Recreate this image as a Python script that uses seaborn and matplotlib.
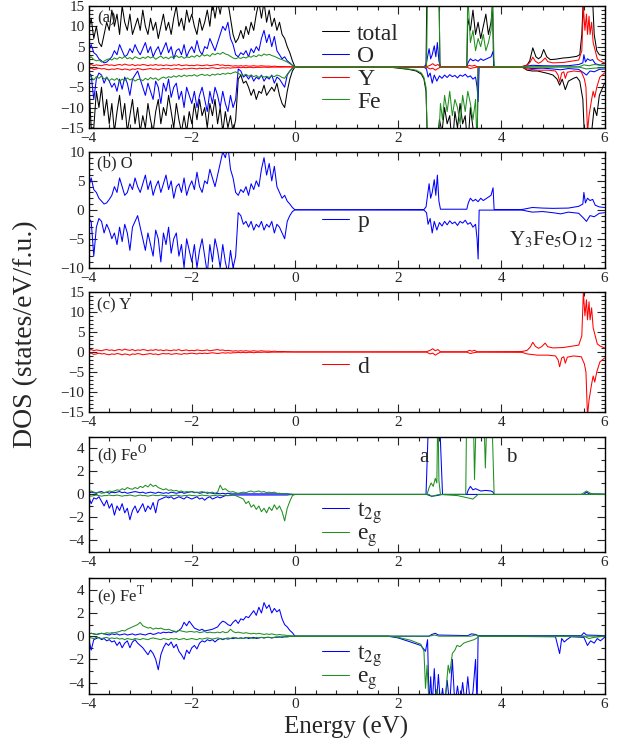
import numpy as np
import matplotlib
matplotlib.use("Agg")
import matplotlib.pyplot as plt
import seaborn as sns
from matplotlib.ticker import MultipleLocator


# valence band grid: -4.00 ... 0.00 eV, step 0.05 (81 points)
E_VB = np.linspace(-4.0, 0.0, 81)

# ---------------- panel (a): total / O / Y / Fe ----------------
tot_up_vb = [9, 12, 7, 10, 6, 5, 8, 11, 9, 14,
             10, 13, 8, 15, 11, 9, 13, 8, 10, 12,
             9, 14, 10, 8, 12, 9, 11, 7, 10, 13,
             9, 11, 8, 12, 15, 10, 12, 9, 14, 11,
             13, 10, 8, 12, 9, 11, 14, 10, 16, 12,
             16, 13, 17, 15, 16, 12, 8, 6, 7, 9,
             7, 10, 8, 11, 9, 13, 16, 12, 16, 11,
             14, 10, 12, 9, 11, 8, 7, 5, 3.5, 1.5,
             0]
tot_dn_vb = [-3, -15, -15, -6, -10, -5, -12, -8, -14, -9,
             -16, -11, -7, -13, -9, -16, -12, -8, -14, -10,
             -16, -12, -15, -9, -13, -16, -11, -8, -14, -10,
             -12, -7, -11, -15, -9, -13, -16, -12, -16, -11,
             -14, -9, -13, -8, -12, -10, -15, -9, -12, -8,
             -14, -10, -16, -11, -15, -12, -16, -13, -3, -2,
             -4, -3.5, -5, -7, -5.5, -8, -6, -6.5, -4.5, -7,
             -6, -5, -6, -4, -7, -9, -10, -6, -3, -1,
             0]
tot_up_cb_e = [0.0, 2.54, 2.56, 2.6, 2.65, 2.7, 2.75, 2.79, 2.81,
               3.33, 3.35, 3.4, 3.45, 3.5, 3.55, 3.6, 3.65, 3.7, 3.75, 3.8, 3.83, 3.85,
               4.4, 4.5, 4.55, 4.61, 4.67, 4.72, 4.77, 4.82, 4.88, 4.95,
               5.05, 5.2, 5.3, 5.4, 5.46, 5.52, 5.56, 5.6, 5.65, 5.7,
               5.75, 5.8, 5.85, 5.9, 6.0]
tot_up_cb = [0, 0, 22, 20, 22, 20, 22, 20, 0,
             0, 12, 9, 14, 8, 11, 7, 10, 13, 8, 11, 15, 0,
             0, 0.5, 1.5, 4.7, 2.5, 2.0, 2.5, 4.3, 2.5, 1.8,
             1.9, 2.2, 2.3, 2.5, 2.6, 3, 8, 20, 22, 20,
             22, 8, 4, 3, 2.8]
tot_dn_cb_e = [0.0, 1.8, 2.0, 2.2, 2.35, 2.45, 2.5, 2.54, 2.57, 2.6,
               2.65, 2.7, 2.75, 2.8, 2.85, 2.9, 2.95, 3.0, 3.05, 3.1,
               3.15, 3.2, 3.25, 3.3, 3.35, 3.4, 3.45, 3.5, 3.53, 3.55,
               4.4, 4.5, 4.6, 4.7, 4.8, 4.9, 5.0, 5.08, 5.13, 5.18,
               5.24, 5.3, 5.4, 5.46, 5.52, 5.58, 5.62, 5.7, 5.75, 5.8,
               5.85, 5.9, 6.0]
tot_dn_cb = [0, 0, -0.3, -0.6, -1.0, -1.8, -3.0, -6, -20, -20,
             -18, -20, -20, -13, -16, -10, -14, -12, -20, -11,
             -15, -9, -14, -12, -20, -10, -15, -20, -20, 0,
             0, -0.8, -1.0, -1.0, -1.3, -1.6, -2.0, -3.0, -4.5, -3.0,
             -5.6, -3.5, -2.8, -2.5, -3.5, -8, -20, -20, -16, -10,
             -12, -7, -4]

# O (p) - same in panels (a) and (b)
o_up_vb = [4, 5.5, 3.5, 3, 2, 1.5, 1, 1.2, 1.8, 2.5,
           4, 3, 5.5, 4, 2.5, 3, 4.5, 3.5, 5.5, 4,
           3, 4.5, 6, 3.5, 5, 2.5, 4, 5, 3, 4.5,
           6, 3.5, 5, 2, 4, 4.5, 3, 5.5, 2.5, 4,
           5, 3.5, 6.5, 4, 3, 5, 4.5, 7, 5.5, 4,
           6, 8, 10, 9, 11, 7, 5.5, 3, 2.5, 3.5,
           3, 4, 2.5, 4.5, 3.5, 5, 4, 7, 9, 6,
           8, 5, 7.5, 4, 3, 2, 2.5, 1.5, 1, 0.4,
           0]
o_dn_vb = [-1.5, -2, -8, -3, -1.5, -2, -4, -2.5, -3.5, -5,
           -4, -6, -3, -5.5, -2.5, -4, -7, -3, -2, -1,
           -3, -5, -7, -4, -6, -8, -3.5, -5, -9, -4,
           -6, -3, -7.5, -5, -4, -8, -6, -10, -5, -7,
           -9, -6, -10, -7, -5, -8, -11, -6, -9, -5,
           -7, -10, -6, -9, -11, -7, -10, -8, -0.5, -1,
           -2.5, -2, -3, -2, -3.5, -2.5, -3, -2, -3.5, -2.5,
           -3, -2, -4, -2.5, -3, -4, -5, -2, -1, -0.3,
           0]
o_up_cb_e = [0.0, 2.5, 2.54, 2.57, 2.6, 2.63, 2.66, 2.7, 2.73, 2.76,
             2.79, 2.82, 3.33, 3.36, 3.4, 3.45, 3.5, 3.55, 3.6, 3.65,
             3.7, 3.75, 3.8, 3.84, 3.86, 4.4, 4.6, 4.8, 5.0, 5.3,
             5.5, 5.58, 5.6, 5.63, 5.67, 5.72, 5.77, 5.82, 5.9, 6.0]
o_up_cb = [0, 0.05, 0.5, 2.5, 4.5, 2.0, 3.0, 5.2, 2.5, 6.0,
           1.5, 0.1, 0.1, 1.2, 2.0, 1.5, 1.8, 1.4, 2.0, 1.6,
           1.9, 2.2, 2.5, 3.8, 0.05, 0.05, 0.4, 0.3, 0.25, 0.3,
           0.6, 1.0, 3.0, 1.2, 2.0, 1.6, 1.8, 0.8, 0.5, 0.4]
o_dn_cb_e = [0.0, 2.5, 2.55, 2.58, 2.62, 2.66, 2.7, 2.75, 2.8, 2.85,
             2.9, 2.95, 3.0, 3.05, 3.1, 3.15, 3.2, 3.25, 3.3, 3.35,
             3.4, 3.45, 3.5, 3.53, 3.55, 3.57, 4.4, 4.6, 4.8, 5.0,
             5.15, 5.3, 5.5, 5.6, 5.65, 5.72, 5.8, 5.9, 6.0]
o_dn_cb = [0, -0.05, -0.5, -2.5, -1.5, -4.0, -2.0, -3.5, -2.2, -2.8,
           -2.0, -2.6, -1.9, -2.4, -2.1, -2.7, -2.0, -2.3, -1.8, -2.5,
           -2.2, -3.0, -2.5, -5.0, -8.5, -0.05, -0.05, -0.4, -0.3, -0.5,
           -0.7, -0.4, -0.6, -1.5, -2.0, -1.0, -1.2, -0.6, -0.5]

# Y (d) - same in panels (a) and (c)
y_up_vb = [0.4, 0.6, 0.3, 0.5, 0.4, 0.3, 0.5, 0.6, 0.4, 0.5,
           0.3, 0.5, 0.6, 0.4, 0.7, 0.5, 0.4, 0.6, 0.3, 0.5,
           0.4, 0.6, 0.5, 0.3, 0.5, 0.4, 0.6, 0.4, 0.5, 0.3,
           0.5, 0.4, 0.3, 0.5, 0.4, 0.6, 0.3, 0.4, 0.5, 0.3,
           0.4, 0.3, 0.5, 0.4, 0.3, 0.4, 0.5, 0.3, 0.4, 0.5,
           0.6, 0.4, 0.5, 0.3, 0.4, 0.3, 0.2, 0.3, 0.2, 0.3,
           0.2, 0.3, 0.2, 0.2, 0.3, 0.2, 0.2, 0.3, 0.2, 0.2,
           0.2, 0.1, 0.2, 0.1, 0.1, 0.1, 0.1, 0.05, 0.05, 0.02,
           0]
y_dn_vb = [-0.4, -0.3, -0.6, -0.5, -0.3, -0.5, -0.4, -0.6, -0.7, -0.5,
           -0.6, -0.4, -0.5, -0.7, -0.5, -0.6, -0.8, -0.5, -0.6, -0.4,
           -0.5, -0.7, -0.6, -0.5, -0.4, -0.6, -0.5, -0.7, -0.5, -0.4,
           -0.5, -0.4, -0.6, -0.5, -0.4, -0.5, -0.6, -0.4, -0.5, -0.4,
           -0.3, -0.4, -0.5, -0.3, -0.4, -0.3, -0.4, -0.3, -0.2, -0.3,
           -0.4, -0.3, -0.2, -0.3, -0.2, -0.3, -0.2, -0.2, -0.1, -0.2,
           -0.1, -0.2, -0.1, -0.1, -0.2, -0.1, -0.1, -0.1, -0.05, -0.1,
           -0.1, -0.05, -0.05, -0.05, -0.05, -0.05, -0.02, -0.02, -0.02, -0.01,
           0]
y_up_cb_e = [0.0, 2.55, 2.62, 2.67, 2.72, 2.77, 2.82, 3.33, 3.38, 3.43,
             3.48, 3.53, 4.4, 4.5, 4.56, 4.61, 4.66, 4.72, 4.78, 4.85,
             4.9, 5.0, 5.2, 5.4, 5.5, 5.56, 5.59, 5.62, 5.65, 5.67,
             5.7, 5.72, 5.75, 5.78, 5.82, 5.86, 5.91, 6.0]
y_up_cb = [0, 0.05, 0.4, 0.8, 0.3, 0.6, 0.05, 0.05, 0.4, 0.2,
           0.4, 0.05, 0.1, 0.4, 1.2, 2.4, 1.4, 0.9, 1.3, 2.2,
           1.3, 1.0, 1.1, 1.5, 1.7, 4, 15, 9, 13, 8,
           12.5, 8, 11, 6, 4, 2, 1.5, 1.0]
y_dn_cb_e = [0.0, 2.55, 2.62, 2.67, 2.72, 2.77, 2.82, 3.33, 3.4, 3.46,
             3.53, 4.4, 4.5, 4.7, 4.9, 5.05, 5.1, 5.13, 5.17, 5.21,
             5.24, 5.28, 5.4, 5.55, 5.61, 5.64, 5.67, 5.7, 5.75, 5.78,
             5.81, 5.85, 5.91, 6.0]
y_dn_cb = [0, -0.05, -0.5, -0.3, -0.8, -0.4, -0.05, -0.05, -0.4, -0.2,
           -0.05, -0.1, -0.5, -0.8, -0.8, -1.0, -2.0, -3.7, -1.5, -1.2,
           -2.8, -1.3, -1.0, -1.2, -3, -5, -16, -12, -8, -6,
           -7.5, -5, -2.5, -1.5]

# Fe total, panel (a)
fe_up_vb = [2, 2.5, 1.8, 1.5, 1.7, 1.2, 1.4, 1.8, 2.0, 1.7,
            2.2, 1.9, 2.4, 2.1, 2.6, 2.0, 2.3, 1.9, 2.5, 2.2,
            2.0, 2.4, 2.1, 2.6, 2.2, 2.5, 1.9, 2.3, 2.7, 2.1,
            2.4, 2.0, 2.5, 2.2, 2.8, 2.3, 2.6, 2.1, 2.5, 2.3,
            2.7, 2.4, 2.9, 2.5, 3.1, 2.7, 3.0, 2.6, 3.3, 3.0,
            3.4, 3.1, 3.6, 3.2, 3.0, 2.6, 2.2, 2.0, 2.3, 2.1,
            2.4, 2.2, 2.6, 2.4, 2.8, 2.5, 3.0, 2.7, 3.2, 2.9,
            3.1, 2.8, 2.6, 2.3, 2.0, 1.8, 1.5, 1.2, 0.8, 0.4,
            0]
fe_dn_vb = [-1.5, -2.5, -3.2, -2.4, -2.8, -2.2, -3.0, -2.6, -3.4, -2.9,
            -3.3, -2.8, -3.6, -3.0, -3.4, -2.7, -3.2, -2.9, -3.5, -3.1,
            -3.0, -3.4, -2.8, -3.2, -2.6, -3.0, -2.7, -3.3, -2.8, -2.5,
            -2.8, -2.4, -2.6, -2.2, -2.5, -2.1, -2.4, -2.0, -2.3, -2.1,
            -2.2, -1.9, -2.3, -2.0, -1.8, -2.1, -1.9, -2.2, -1.8, -2.0,
            -1.7, -1.9, -1.6, -1.8, -1.5, -1.7, -1.4, -1.2, -1.6, -1.9,
            -2.1, -1.8, -2.3, -2.0, -2.4, -2.1, -2.6, -2.2, -2.5, -2.3,
            -2.6, -2.2, -2.4, -2.0, -2.2, -2.6, -2.8, -1.8, -1.0, -0.4,
            0]
fe_up_cb_e = [0.0, 2.55, 2.57, 2.6, 2.65, 2.7, 2.75, 2.79, 2.81,
              3.33, 3.35, 3.4, 3.45, 3.5, 3.55, 3.6, 3.65, 3.7, 3.75,
              3.8, 3.83, 3.86, 5.5, 5.6, 5.7, 5.8, 6.0]
fe_up_cb = [0, 0, 20, 22, 20, 22, 20, 22, 0,
            0, 18, 6, 9, 4, 7, 5, 8, 4, 6,
            9, 18, 0, 0, 0.5, 0.3, 0.6, 0.3]
fe_dn_cb_e = [0.0, 1.8, 2.0, 2.2, 2.35, 2.45, 2.5, 2.54, 2.57, 2.6,
              2.7, 2.78, 2.82, 2.86, 2.9, 2.95, 3.0, 3.05, 3.1, 3.15,
              3.2, 3.25, 3.3, 3.35, 3.4, 3.45, 3.5, 3.53, 3.55, 5.5,
              5.65, 5.8, 6.0]
fe_dn_cb = [0, 0, -0.2, -0.5, -0.8, -1.5, -2.6, -5, -20, -20,
            -20, -20, -9, -13, -7, -11, -6, -12, -8, -10,
            -14, -7, -11, -6, -9, -13, -8, -20, 0, 0,
            -0.5, -0.3, -0.2]

# ---------------- panel (d): octahedral Fe ----------------
t2g_o_up_vb = [0.1, 0.2, 0.15, 0.1, 0.2, 0.25, 0.15, 0.2, 0.1, 0.2,
               0.15, 0.2, 0.25, 0.15, 0.2, 0.1, 0.15, 0.2, 0.25, 0.2,
               0.15, 0.2, 0.1, 0.15, 0.2, 0.15, 0.1, 0.2, 0.15, 0.1,
               0.15, 0.1, 0.2, 0.15, 0.1, 0.15, 0.2, 0.1, 0.15, 0.2,
               0.25, 0.15, 0.2, 0.1, 0.15, 0.2, 0.1, 0.15, 0.1, 0.05,
               0.1, 0.05, 0.1, 0.05, 0.1, 0.05, 0.05, 0.05, 0.05, 0.05,
               0.05, 0.05, 0.05, 0.05, 0.05, 0.05, 0.05, 0.05, 0.05, 0.05,
               0.05, 0.05, 0.05, 0.05, 0.05, 0.05, 0.05, 0.05, 0.02, 0.01,
               0]
t2g_o_dn_vb = [-0.2, -0.8, -0.3, -0.4, -0.2, -0.6, -1.0, -0.5, -1.2, -0.8,
               -1.8, -1.0, -1.4, -0.8, -1.6, -1.2, -2.2, -1.4, -1.0, -1.6,
               -1.2, -0.8, -1.5, -1.0, -1.3, -0.7, -1.6, -0.5, -0.4, -0.3,
               -0.2, -0.3, -0.2, -0.4, -0.3, -0.2, -0.3, -0.4, -0.2, -0.3,
               -0.4, -0.3, -0.2, -0.4, -0.3, -0.5, -0.3, -0.2, -0.4, -0.3,
               -0.2, -0.3, -0.2, -0.1, -0.1, -0.05, -0.05, -0.05, -0.05, -0.05,
               -0.05, -0.05, -0.05, -0.05, -0.05, -0.05, -0.05, -0.05, -0.05, -0.05,
               -0.05, -0.05, -0.05, -0.05, -0.05, -0.05, -0.05, -0.05, -0.02, -0.01,
               0]
eg_o_up_vb = [0.2, 0.3, 0.2, 0.15, 0.2, 0.1, 0.15, 0.2, 0.3, 0.25,
              0.3, 0.4, 0.35, 0.5, 0.4, 0.6, 0.5, 0.45, 0.6, 0.5,
              0.7, 0.6, 0.8, 0.65, 0.9, 0.7, 0.8, 0.6, 0.5, 0.4,
              0.5, 0.35, 0.4, 0.3, 0.35, 0.25, 0.3, 0.2, 0.25, 0.2,
              0.25, 0.2, 0.15, 0.2, 0.25, 0.15, 0.2, 0.15, 0.2, 0.1,
              0.2, 0.8, 0.4, 0.5, 0.3, 0.2, 0.25, 0.15, 0.1, 0.15,
              0.2, 0.15, 0.25, 0.3, 0.2, 0.25, 0.3, 0.2, 0.25, 0.15,
              0.2, 0.15, 0.2, 0.1, 0.1, 0.05, 0.05, 0.05, 0.02, 0.01,
              0]
eg_o_dn_vb = [-0.1, -0.15, -0.1, -0.05, -0.1, -0.15, -0.1, -0.1, -0.05, -0.1,
              -0.1, -0.05, -0.1, -0.15, -0.1, -0.1, -0.05, -0.1, -0.15, -0.1,
              -0.05, -0.1, -0.1, -0.15, -0.1, -0.05, -0.1, -0.1, -0.05, -0.1,
              -0.1, -0.15, -0.1, -0.1, -0.05, -0.1, -0.15, -0.1, -0.1, -0.05,
              -0.1, -0.1, -0.15, -0.1, -0.05, -0.1, -0.1, -0.15, -0.1, -0.1,
              -0.05, -0.1, -0.1, -0.05, -0.1, -0.1, -0.05, -0.1, -0.2, -0.3,
              -0.4, -0.8, -0.6, -1.1, -0.9, -1.3, -1.0, -1.5, -1.2, -1.6,
              -1.1, -1.4, -0.9, -1.3, -1.0, -1.5, -2.3, -1.2, -0.6, -0.1,
              0]
t2g_o_up_cb_e = [0.0, 2.54, 2.6, 2.65, 2.7, 2.75, 2.79, 2.86, 3.33, 3.36,
                 3.4, 3.45, 3.5, 3.6, 3.7, 3.8, 3.84, 3.86, 5.6, 5.65,
                 5.7, 6.0]
t2g_o_up_cb = [0, 0, 8, 9, 8, 9, 8, 0, 0, 0.4,
               0.7, 0.4, 0.5, 0.3, 0.35, 0.3, 0.2, 0, 0, 0.2,
               0.05, 0.02]
t2g_o_dn_cb_e = [0.0, 2.55, 2.65, 2.75, 2.85, 6.0]
t2g_o_dn_cb = [0, 0, -0.15, -0.1, 0, 0]
eg_o_up_cb_e = [0.0, 2.56, 2.6, 2.64, 2.68, 2.72, 2.75, 2.77, 2.79, 2.82,
                3.31, 3.33, 3.36, 3.4, 3.45, 3.48, 3.52, 3.56, 3.6, 3.65,
                3.69, 3.73, 3.77, 3.81, 3.86, 5.55, 5.65, 5.75, 6.0]
eg_o_up_cb = [0, 0, 0.6, 1.0, 0.7, 1.4, 1.0, 8, 1.2, 0,
              0, 8, 9, 8, 9, 1.3, 8, 9, 8, 9,
              2.3, 8, 9, 8, 0, 0, 0.3, 0.05, 0.02]
eg_o_dn_cb_e = [0.0, 2.6, 2.65, 2.7, 2.8, 3.15, 3.25, 3.35, 3.45, 3.5, 3.55, 6.0]
eg_o_dn_cb = [0, 0, -0.2, -0.1, 0, -0.1, -0.2, -0.3, -0.4, -0.2, 0, 0]

# ---------------- panel (e): tetrahedral Fe ----------------
t2g_t_up_vb = [0.2, 0.25, 0.2, 0.15, 0.2, 0.25, 0.2, 0.15, 0.1, 0.2,
               0.15, 0.2, 0.1, 0.15, 0.2, 0.1, 0.15, 0.2, 0.1, 0.15,
               0.2, 0.15, 0.1, 0.2, 0.25, 0.15, 0.2, 0.3, 0.25, 0.35,
               0.3, 0.35, 0.3, 0.4, 0.35, 0.5, 0.7, 1.2, 0.9, 1.3,
               1.0, 0.7, 0.6, 0.5, 0.6, 0.45, 0.5, 0.55, 0.6, 0.7,
               0.8, 1.1, 1.3, 1.2, 1.0, 0.9, 1.2, 1.4, 1.1, 1.5,
               1.4, 1.7, 1.6, 1.9, 2.2, 1.8, 2.5, 2.0, 2.9, 2.4,
               2.7, 2.0, 2.4, 2.1, 2.3, 1.5, 1.0, 0.8, 0.5, 0.3,
               0]
t2g_t_dn_vb = [-0.2, -1.2, -0.3, -0.2, -0.1, -0.3, -0.2, -0.4, -0.3, -0.5,
               -0.4, -0.8, -0.5, -1.0, -0.6, -0.4, -1.0, -0.5, -0.3, -0.6,
               -0.8, -1.0, -1.3, -1.6, -1.2, -1.5, -2.0, -2.9, -1.6, -1.0,
               -0.6, -0.8, -0.5, -1.0, -0.7, -1.3, -1.6, -2.0, -1.2, -1.5,
               -1.0, -0.8, -1.1, -0.6, -0.4, -0.5, -0.3, -0.4, -0.3, -0.5,
               -0.3, -0.2, -0.3, -0.2, -0.25, -0.2, -0.2, -0.15, -0.2, -0.15,
               -0.2, -0.1, -0.2, -0.15, -0.1, -0.2, -0.15, -0.1, -0.15, -0.1,
               -0.1, -0.15, -0.1, -0.1, -0.05, -0.1, -0.05, -0.05, -0.02, -0.01,
               0]
eg_t_up_vb = [0.2, 0.25, 0.2, 0.15, 0.2, 0.25, 0.2, 0.3, 0.25, 0.3,
              0.3, 0.35, 0.4, 0.5, 0.45, 0.6, 0.7, 0.8, 0.9, 1.0,
              1.2, 0.9, 0.8, 0.7, 0.75, 0.6, 0.7, 0.65, 0.7, 0.6,
              0.55, 0.6, 0.5, 0.45, 0.4, 0.5, 0.45, 0.4, 0.35, 0.4,
              0.4, 0.35, 0.4, 0.3, 0.35, 0.4, 0.3, 0.35, 0.3, 0.3,
              0.35, 0.3, 0.4, 0.3, 0.35, 0.6, 0.4, 0.3, 0.35, 0.3,
              0.25, 0.3, 0.25, 0.2, 0.25, 0.2, 0.25, 0.2, 0.15, 0.2,
              0.15, 0.2, 0.15, 0.1, 0.15, 0.1, 0.1, 0.05, 0.05, 0.02,
              0]
eg_t_dn_vb = [-0.1, -0.15, -0.2, -0.1, -0.15, -0.2, -0.15, -0.1, -0.2, -0.15,
              -0.2, -0.15, -0.25, -0.2, -0.3, -0.2, -0.25, -0.3, -0.2, -0.25,
              -0.3, -0.2, -0.25, -0.3, -0.2, -0.15, -0.2, -0.25, -0.3, -0.2,
              -0.25, -0.3, -0.2, -0.25, -0.2, -0.3, -0.25, -0.2, -0.3, -0.25,
              -0.2, -0.25, -0.3, -0.2, -0.25, -0.2, -0.15, -0.2, -0.25, -0.2,
              -0.15, -0.2, -0.25, -0.2, -0.15, -0.2, -0.1, -0.15, -0.2, -0.15,
              -0.2, -0.15, -0.1, -0.15, -0.2, -0.1, -0.15, -0.1, -0.15, -0.1,
              -0.1, -0.15, -0.1, -0.05, -0.1, -0.05, -0.05, -0.05, -0.02, -0.01,
              0]
t2g_t_up_cb_e = [0.0, 2.6, 2.65, 2.72, 2.78, 3.35, 3.42, 3.5, 3.55, 4.2,
                 5.55, 5.6, 5.65, 6.0]
t2g_t_up_cb = [0, 0, 0.15, 0.25, 0.1, 0.05, 0.2, 0.15, 0.05, 0.05,
               0.05, 0.3, 0.1, 0.05]
t2g_t_dn_cb_e = [0.0, 1.8, 2.0, 2.24, 2.44, 2.53, 2.57, 2.6, 2.63, 2.66,
                 2.7, 2.74, 2.78, 2.82, 2.86, 2.9, 2.95, 3.0, 3.05, 3.1,
                 3.15, 3.2, 3.25, 3.3, 3.35, 3.4, 3.45, 3.5, 3.53, 3.55,
                 5.05, 5.13, 5.17, 5.22, 5.27, 5.35, 5.6, 5.67, 5.73, 5.8,
                 5.86, 5.92, 6.0]
t2g_t_dn_cb = [0, 0, -0.15, -0.5, -0.8, -1.3, -0.3, -6, -3.5, -6,
               -2.8, -6, -3.3, -6, -4.5, -6, -3.8, -6, -2.0, -6,
               -4.3, -6, -4.0, -6, -3.5, -6, -4.8, -2.0, -6, 0,
               -0.05, -1.5, -0.2, -0.5, -0.3, -0.05, -0.1, -0.8, -0.4, -0.6,
               -0.2, -0.4, -0.1]
eg_t_up_cb_e = [0.0, 2.6, 2.7, 2.8, 3.4, 3.5, 3.6, 6.0]
eg_t_up_cb = [0, 0, 0.1, 0, 0, 0.1, 0, 0]
eg_t_dn_cb_e = [0.0, 1.85, 2.0, 2.24, 2.44, 2.5, 2.53, 2.56, 2.6, 2.65,
                2.7, 2.75, 2.8, 2.85, 2.9, 2.94, 2.97, 3.0, 3.05, 3.1,
                3.14, 3.2, 3.27, 3.33, 3.4, 3.47, 3.53, 3.56, 5.6, 5.7,
                5.8, 6.0]
eg_t_dn_cb = [0, 0, -0.1, -0.35, -0.7, -1.3, -4.5, -2.5, -6, -5,
              -6, -4.6, -6, -5, -6, -4.0, -2.5, -3.2, -1.5, -1.2,
              -0.8, -0.9, -0.6, -0.5, -0.4, -0.3, -0.15, 0, 0, -0.2,
              -0.1, 0]

BLACK = "#000000"
BLUE = "#0000ff"
RED = "#ff0000"
GREEN = "#1f8f1f"
LW = 0.75


def curve(vb, cb_e, cb):
    """Join valence-band grid values with conduction-band points."""
    assert len(vb) == len(E_VB), len(vb)
    assert len(cb_e) == len(cb), (len(cb_e), len(cb))
    return np.concatenate([E_VB, cb_e]), np.concatenate([vb, cb])


def draw(ax, vb, cb_e, cb, color, label=None):
    x, y = curve(vb, cb_e, cb)
    sns.lineplot(x=x, y=y, ax=ax, color=color, linewidth=LW, estimator=None,
                 sort=False, label=label, legend=False)


def style_axis(ax, ylim, ymajor):
    ax.set_xlim(-4, 6)
    ax.set_ylim(*ylim)
    ax.xaxis.set_major_locator(MultipleLocator(2))
    ax.xaxis.set_minor_locator(MultipleLocator(0.4))
    ax.yaxis.set_major_locator(MultipleLocator(ymajor))
    ax.yaxis.set_minor_locator(MultipleLocator(1))
    ax.tick_params(which="both", direction="in", top=True, right=True,
                   labelsize=11, width=0.8, pad=3)
    ax.tick_params(which="major", length=6)
    ax.tick_params(which="minor", length=3)
    for s in ax.spines.values():
        s.set_linewidth(1.0)
        s.set_color("black")
    ax.set_xlabel("")
    ax.set_ylabel("")


def add_legend(ax, x, y, spacing=0.0):
    leg = ax.legend(loc="upper left", bbox_to_anchor=(x, y), frameon=False,
                    fontsize=17, handlelength=1.15, handletextpad=0.35,
                    labelspacing=spacing, borderpad=0, borderaxespad=0)
    return leg


def main():
    sns.set_theme(style="ticks")
    plt.rcParams["font.family"] = ["Liberation Serif", "DejaVu Serif"]
    plt.rcParams["mathtext.fontset"] = "stix"

    fig = plt.figure(figsize=(6.33, 7.52), dpi=100)
    left, width = 0.140, 0.815
    rects = [(0.830, 0.162), (0.644, 0.154), (0.452, 0.160),
             (0.266, 0.153), (0.077, 0.154)]
    axes = [fig.add_axes([left, b, width, h]) for b, h in rects]
    ax_a, ax_b, ax_c, ax_d, ax_e = axes

    # (a) total, O, Y, Fe
    draw(ax_a, tot_up_vb, tot_up_cb_e, tot_up_cb, BLACK, "total")
    draw(ax_a, tot_dn_vb, tot_dn_cb_e, tot_dn_cb, BLACK)
    draw(ax_a, o_up_vb, o_up_cb_e, o_up_cb, BLUE, "O")
    draw(ax_a, o_dn_vb, o_dn_cb_e, o_dn_cb, BLUE)
    draw(ax_a, y_up_vb, y_up_cb_e, y_up_cb, RED, "Y")
    draw(ax_a, y_dn_vb, y_dn_cb_e, y_dn_cb, RED)
    draw(ax_a, fe_up_vb, fe_up_cb_e, fe_up_cb, GREEN, "Fe")
    draw(ax_a, fe_dn_vb, fe_dn_cb_e, fe_dn_cb, GREEN)
    style_axis(ax_a, (-15, 15), 5)
    add_legend(ax_a, 0.452, 0.86, spacing=0.05)
    ax_a.text(0.016, 0.90, "(a)", transform=ax_a.transAxes, fontsize=12, va="center")

    # (b) O p
    draw(ax_b, o_up_vb, o_up_cb_e, o_up_cb, BLUE, "p")
    draw(ax_b, o_dn_vb, o_dn_cb_e, o_dn_cb, BLUE)
    style_axis(ax_b, (-10, 10), 5)
    add_legend(ax_b, 0.452, 0.49)
    ax_b.text(0.016, 0.905, "(b) O", transform=ax_b.transAxes, fontsize=12, va="center")
    ax_b.text(0.815, 0.24, r"Y$_3$Fe$_5$O$_{12}$", transform=ax_b.transAxes,
              fontsize=15, va="center")

    # (c) Y d
    draw(ax_c, y_up_vb, y_up_cb_e, y_up_cb, RED, "d")
    draw(ax_c, y_dn_vb, y_dn_cb_e, y_dn_cb, RED)
    style_axis(ax_c, (-15, 15), 5)
    add_legend(ax_c, 0.452, 0.465)
    ax_c.text(0.016, 0.89, "(c) Y", transform=ax_c.transAxes, fontsize=12, va="center")

    # (d) Fe octahedral
    draw(ax_d, t2g_o_up_vb, t2g_o_up_cb_e, t2g_o_up_cb, BLUE, r"t$_{\rm 2g}$")
    draw(ax_d, t2g_o_dn_vb, t2g_o_dn_cb_e, t2g_o_dn_cb, BLUE)
    draw(ax_d, eg_o_up_vb, eg_o_up_cb_e, eg_o_up_cb, GREEN, r"e$_{\rm g}$")
    draw(ax_d, eg_o_dn_vb, eg_o_dn_cb_e, eg_o_dn_cb, GREEN)
    style_axis(ax_d, (-5, 5), 2)
    add_legend(ax_d, 0.452, 0.45, spacing=-0.1)
    ax_d.text(0.016, 0.84, r"(d) Fe$^{\rm O}$", transform=ax_d.transAxes,
              fontsize=12, va="center")
    ax_d.text(0.64, 0.82, "a", transform=ax_d.transAxes, fontsize=15, va="center")
    ax_d.text(0.81, 0.82, "b", transform=ax_d.transAxes, fontsize=15, va="center")

    # (e) Fe tetrahedral
    draw(ax_e, t2g_t_up_vb, t2g_t_up_cb_e, t2g_t_up_cb, BLUE, r"t$_{\rm 2g}$")
    draw(ax_e, t2g_t_dn_vb, t2g_t_dn_cb_e, t2g_t_dn_cb, BLUE)
    draw(ax_e, eg_t_up_vb, eg_t_up_cb_e, eg_t_up_cb, GREEN, r"e$_{\rm g}$")
    draw(ax_e, eg_t_dn_vb, eg_t_dn_cb_e, eg_t_dn_cb, GREEN)
    style_axis(ax_e, (-5, 5), 2)
    add_legend(ax_e, 0.452, 0.44, spacing=-0.1)
    ax_e.text(0.016, 0.84, r"(e) Fe$^{\rm T}$", transform=ax_e.transAxes,
              fontsize=12, va="center")

    fig.text(0.547, 0.032, "Energy (eV)", ha="center", va="center", fontsize=18)
    fig.text(0.040, 0.555, "DOS (states/eV/f.u.)", ha="center", va="center",
             rotation=90, fontsize=20)

    fig.savefig("out.png", dpi=100)


if __name__ == "__main__":
    main()
